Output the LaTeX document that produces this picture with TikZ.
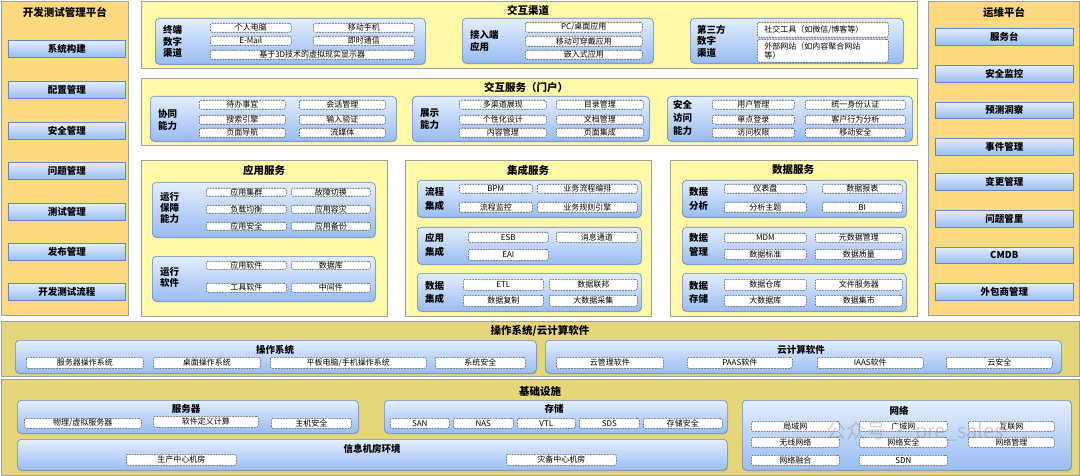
\documentclass[tikz,border=0pt]{standalone}
\usepackage{fontspec}
\setmainfont{Noto Sans CJK SC}
\usetikzlibrary{shadows}
\definecolor{orangeP}{RGB}{255,217,128}
\definecolor{yellowP}{RGB}{255,249,168}
\definecolor{khakiP}{RGB}{229,214,122}
\definecolor{pborder}{RGB}{160,160,160}
\definecolor{btop}{RGB}{228,238,254}
\definecolor{bbot}{RGB}{152,188,242}
\definecolor{bborder}{RGB}{95,135,205}
\definecolor{dborder}{RGB}{80,80,80}
\tikzset{
 panelO/.style={draw=pborder, fill=orangeP, line width=0.8pt},
 panelY/.style={draw=pborder, fill=yellowP, line width=0.8pt},
 panelK/.style={draw=pborder, fill=khakiP, line width=0.8pt},
 bluebox/.style={draw=bborder, top color=btop, bottom color=bbot, rounded corners=4pt, line width=0.6pt,
   drop shadow={shadow xshift=0.8pt, shadow yshift=-1pt, opacity=0.3}},
 btn/.style={draw=bborder, top color=btop, bottom color=bbot, line width=0.6pt,
   font=\bfseries\fontsize{9.5}{10}\selectfont, drop shadow={shadow xshift=0.8pt, shadow yshift=-1pt, opacity=0.3}},
 ditem/.style={draw=dborder, fill=white, dash pattern=on 1.8pt off 1pt, rounded corners=2pt, line width=0.55pt,
   font=\fontsize{8}{8.5}\selectfont},
 ptitle/.style={font=\bfseries\fontsize{10.5}{11}\selectfont, inner sep=0pt},
 btitle/.style={font=\bfseries\fontsize{9.5}{10}\selectfont, inner sep=0pt},
 blabel/.style={font=\bfseries\fontsize{9.5}{11.5}\selectfont, align=left, anchor=west, inner sep=0pt},
}
\newcommand\bx[6]{\node[#6, anchor=north west, inner sep=0pt, minimum width={(#4)-(#2)}, minimum height={(#5)-(#3)}] (#1) at (#2,#3) {};}
\newcommand\tb[7]{\node[#6, anchor=north west, inner sep=0pt, minimum width={(#4)-(#2)}, minimum height={(#5)-(#3)}] (#1) at (#2,#3) {#7};}
\begin{document}
\begin{tikzpicture}[x=1pt,y=-1pt]
\useasboundingbox (0,0) rectangle (1080,476);
\fill[white] (0,0) rectangle (1080,476);

% ---------- left panel
\bx{dev}{1}{1}{128}{315}{panelO}
\node[ptitle] (devt) at (65,12) {开发测试管理平台};
\tb{d1}{8}{40}{125}{57}{btn}{系统构建}
\tb{d2}{8}{81}{125}{98}{btn}{配置管理}
\tb{d3}{8}{122}{125}{139}{btn}{安全管理}
\tb{d4}{8}{162}{125}{179}{btn}{问题管理}
\tb{d5}{8}{203}{125}{220}{btn}{测试管理}
\tb{d6}{8}{243}{125}{260}{btn}{发布管理}
\tb{d7}{8}{283}{125}{300}{btn}{开发测试流程}

% ---------- right panel
\bx{ops}{928}{1}{1079}{315}{panelO}
\node[ptitle] (opst) at (1004,12) {运维平台};
\tb{o1}{935}{28}{1073}{45}{btn}{服务台}
\tb{o2}{935}{65}{1073}{82}{btn}{安全监控}
\tb{o3}{935}{102}{1073}{118}{btn}{预测洞察}
\tb{o4}{935}{138}{1073}{155}{btn}{事件管理}
\tb{o5}{935}{173}{1073}{190}{btn}{变更管理}
\tb{o6}{935}{210}{1073}{227}{btn}{问题管里}
\tb{o7}{935}{247}{1073}{263}{btn}{CMDB}
\tb{o8}{935}{283}{1073}{300}{btn}{外包商管理}

% ---------- 交互渠道
\bx{ch}{141}{1}{917}{68}{panelY}
\node[ptitle] (cht) at (528,11) {交互渠道};
\bx{zd}{155}{18}{425}{64}{bluebox}
\node[blabel] (zdl) at (163,41.5) {终端\\数字\\渠道};
\tb{zd1}{210}{23}{291}{32}{ditem}{个人电脑}
\tb{zd2}{313}{23}{414}{32}{ditem}{移动手机}
\tb{zd3}{210}{36}{291}{45}{ditem}{E-Mail}
\tb{zd4}{313}{36}{414}{45}{ditem}{即时通信}
\tb{zd5}{210}{50}{414}{59}{ditem}{基于3D技术的虚拟现实显示器}
\bx{jr}{462}{18}{653}{63}{bluebox}
\node[blabel,font=\bfseries\fontsize{9.5}{12}\selectfont] (jrl) at (470,41) {接入端\\应用};
\tb{jr1}{525}{22}{642}{32}{ditem}{PC/桌面应用}
\tb{jr2}{525}{36}{642}{46}{ditem}{移动可穿戴应用}
\tb{jr3}{525}{50}{642}{59}{ditem}{嵌入式应用}
\bx{ds}{690}{18}{903}{63}{bluebox}
\node[blabel] (dsl) at (697,41) {第三方\\数字\\渠道};
\node[ditem, anchor=north west, inner sep=0pt, minimum width=131, minimum height=15, text width=121, align=left] (ds1) at (757,22) {\hspace*{2pt}社交工具（如微信/博客等）};
\node[ditem, anchor=north west, inner sep=0pt, minimum width=131, minimum height=23, text width=121, align=left] (ds2) at (757,39) {\hspace*{2pt}外部网站（如内容聚合网站\\\hspace*{2pt}等）};

% ---------- 交互服务（门户）
\bx{portal}{141}{78}{917}{145}{panelY}
\node[ptitle] (portalt) at (526,87) {交互服务（门户）};
\bx{xt}{150}{96}{396}{141}{bluebox}
\node[blabel,font=\bfseries\fontsize{9.5}{12}\selectfont] (xtl) at (158,119.5) {协同\\能力};
\tb{xt1}{199}{100}{285}{109}{ditem}{待办事宜}
\tb{xt2}{299}{100}{385}{109}{ditem}{会话管理}
\tb{xt3}{199}{115}{285}{124}{ditem}{搜索引擎}
\tb{xt4}{299}{115}{385}{124}{ditem}{输入验证}
\tb{xt5}{199}{128}{285}{137}{ditem}{页面导航}
\tb{xt6}{299}{128}{385}{137}{ditem}{流媒体}
\bx{zs}{412}{96}{649}{141}{bluebox}
\node[blabel,font=\bfseries\fontsize{9.5}{12}\selectfont] (zsl) at (420,119.5) {展示\\能力};
\tb{zs1}{459}{100}{546}{109}{ditem}{多渠道展现}
\tb{zs2}{556}{100}{643}{109}{ditem}{目录管理}
\tb{zs3}{459}{115}{546}{124}{ditem}{个性化设计}
\tb{zs4}{556}{115}{643}{124}{ditem}{文档管理}
\tb{zs5}{459}{128}{546}{137}{ditem}{内容管理}
\tb{zs6}{556}{128}{643}{137}{ditem}{页面集成}
\bx{aq}{667}{96}{912}{141}{bluebox}
\node[blabel,font=\bfseries\fontsize{9.5}{13}\selectfont] (aql) at (673,118) {安全\\访问\\能力};
\tb{aq1}{712}{100}{794}{109}{ditem}{用户管理}
\tb{aq2}{805}{100}{905}{109}{ditem}{统一身份认证}
\tb{aq3}{712}{115}{794}{124}{ditem}{单点登录}
\tb{aq4}{805}{115}{905}{124}{ditem}{客户行为分析}
\tb{aq5}{712}{128}{794}{137}{ditem}{访问权限}
\tb{aq6}{805}{128}{905}{137}{ditem}{移动安全}

% ---------- 应用服务
\bx{app}{141}{160}{387}{316}{panelY}
\node[ptitle] (appt) at (264,170) {应用服务};
\bx{bz}{152}{182}{375}{237}{bluebox}
\node[blabel,font=\bfseries\fontsize{9.5}{10.8}\selectfont] (bzl) at (160,208) {运行\\保障\\能力};
\tb{bz1}{206}{188}{286}{196}{ditem}{应用集群}
\tb{bz2}{291}{188}{370}{196}{ditem}{故障切换}
\tb{bz3}{206}{205}{286}{213}{ditem}{负载均衡}
\tb{bz4}{291}{205}{370}{213}{ditem}{应用容灾}
\tb{bz5}{206}{222}{286}{230}{ditem}{应用安全}
\tb{bz6}{291}{222}{370}{230}{ditem}{应用备份}
\bx{rj}{152}{256}{375}{301}{bluebox}
\node[blabel] (rjl) at (160,277.5) {运行\\软件};
\tb{rj1}{206}{261}{286}{269}{ditem}{应用软件}
\tb{rj2}{291}{261}{370}{269}{ditem}{数据库}
\tb{rj3}{206}{283}{286}{292}{ditem}{工具软件}
\tb{rj4}{291}{283}{370}{292}{ditem}{中间件}

% ---------- 集成服务
\bx{int}{405}{160}{651}{316}{panelY}
\node[ptitle] (intt) at (528,170) {集成服务};
\bx{lc}{417}{180}{641}{217}{bluebox}
\node[blabel,font=\bfseries\fontsize{9.5}{13.5}\selectfont] (lcl) at (425,199) {流程\\集成};
\tb{lc1}{459}{184}{532}{193}{ditem}{BPM}
\tb{lc2}{537}{184}{637}{193}{ditem}{业务流程编排}
\tb{lc3}{459}{202}{532}{212}{ditem}{流程监控}
\tb{lc4}{537}{202}{637}{212}{ditem}{业务规则引擎}
\bx{yj}{417}{227}{641}{264}{bluebox}
\node[blabel,font=\bfseries\fontsize{9.5}{13.5}\selectfont] (yjl) at (425,245) {应用\\集成};
\tb{yj1}{468}{232}{548}{242}{ditem}{ESB}
\tb{yj2}{556}{232}{637}{242}{ditem}{消息通道}
\tb{yj3}{468}{249}{548}{260}{ditem}{EAI}
\bx{sj}{417}{273}{641}{311}{bluebox}
\node[blabel,font=\bfseries\fontsize{9.5}{13.5}\selectfont] (sjl) at (425,292.5) {数据\\集成};
\tb{sj1}{463}{279}{543}{290}{ditem}{ETL}
\tb{sj2}{549}{279}{637}{290}{ditem}{数据联邦}
\tb{sj3}{463}{295}{543}{306}{ditem}{数据复制}
\tb{sj4}{549}{295}{637}{306}{ditem}{大数据采集}

% ---------- 数据服务
\bx{dat}{670}{160}{917}{316}{panelY}
\node[ptitle] (datt) at (793,170) {数据服务};
\bx{fx}{682}{180}{906}{217}{bluebox}
\node[blabel,font=\bfseries\fontsize{9.5}{13.5}\selectfont] (fxl) at (689,199) {数据\\分析};
\tb{fx1}{724}{184}{806}{193}{ditem}{仪表盘}
\tb{fx2}{822}{184}{902}{193}{ditem}{数据报表}
\tb{fx3}{724}{202}{806}{212}{ditem}{分析主题}
\tb{fx4}{822}{202}{902}{212}{ditem}{BI}
\bx{gl}{682}{227}{906}{264}{bluebox}
\node[blabel,font=\bfseries\fontsize{9.5}{13.5}\selectfont] (gll) at (689,245) {数据\\管理};
\tb{gl1}{724}{233}{806}{242}{ditem}{MDM}
\tb{gl2}{815}{233}{902}{242}{ditem}{元数据管理}
\tb{gl3}{724}{249}{806}{259}{ditem}{数据标准}
\tb{gl4}{815}{249}{902}{259}{ditem}{数据质量}
\bx{cc}{682}{273}{906}{311}{bluebox}
\node[blabel,font=\bfseries\fontsize{9.5}{13.5}\selectfont] (ccl) at (689,292.5) {数据\\存储};
\tb{cc1}{724}{279}{806}{290}{ditem}{数据仓库}
\tb{cc2}{815}{279}{902}{290}{ditem}{文件服务器}
\tb{cc3}{724}{295}{806}{306}{ditem}{大数据库}
\tb{cc4}{815}{295}{902}{306}{ditem}{数据集市}

% ---------- 操作系统/云计算软件
\bx{os}{1}{321}{1079}{376}{panelK}
\node[ptitle] (ost) at (540,331) {操作系统/云计算软件};
\bx{osb}{15}{340}{536}{373}{bluebox}
\node[btitle] (osbt) at (275,350) {操作系统};
\tb{os1}{26}{357}{143}{368}{ditem}{服务器操作系统}
\tb{os2}{153}{357}{260}{368}{ditem}{桌面操作系统}
\tb{os3}{270}{357}{426}{368}{ditem}{平板电脑/手机操作系统}
\tb{os4}{435}{357}{525}{368}{ditem}{系统安全}
\bx{cl}{545}{340}{1061}{373}{bluebox}
\node[btitle] (clt) at (801,350) {云计算软件};
\tb{cl1}{556}{357}{663}{368}{ditem}{云管理软件}
\tb{cl2}{687}{357}{792}{368}{ditem}{PAAS软件}
\tb{cl3}{817}{357}{923}{368}{ditem}{IAAS软件}
\tb{cl4}{946}{357}{1052}{368}{ditem}{云安全}

% ---------- 基础设施
\bx{inf}{1}{379}{1079}{475}{panelK}
\node[ptitle] (inft) at (540,391) {基础设施};
\bx{sv}{17}{400}{358}{433}{bluebox}
\node[btitle] (svt) at (186,409) {服务器};
\tb{sv1}{24}{418}{141}{428}{ditem}{物理/虚拟服务器}
\tb{sv2}{153}{416}{258}{427}{ditem}{软件定义计算}
\tb{sv3}{271}{418}{351}{428}{ditem}{主机安全}
\bx{st}{384}{400}{727}{433}{bluebox}
\node[btitle] (stt) at (554,409) {存储};
\tb{st1}{390}{418}{449}{428}{ditem}{SAN}
\tb{st2}{453}{418}{513}{428}{ditem}{NAS}
\tb{st3}{517}{418}{575}{428}{ditem}{VTL}
\tb{st4}{579}{418}{639}{428}{ditem}{SDS}
\tb{st5}{643}{418}{722}{428}{ditem}{存储安全}
\bx{jf}{17}{439}{727}{470}{bluebox}
\node[btitle] (jft) at (372,449) {信息机房环境};
\tb{jf1}{126}{454}{236}{465}{ditem}{生产中心机房}
\tb{jf2}{506}{454}{616}{465}{ditem}{灾备中心机房}
\bx{nw}{742}{400}{1071}{470}{bluebox}
\node[btitle] (nwt) at (899,411) {网络};
\tb{nw1}{751}{421}{839}{431}{ditem}{局域网}
\tb{nw2}{859}{421}{947}{431}{ditem}{广域网}
\tb{nw3}{968}{421}{1054}{431}{ditem}{互联网}
\tb{nw4}{751}{437}{839}{447}{ditem}{无线网络}
\tb{nw5}{859}{437}{947}{447}{ditem}{网络安全}
\tb{nw6}{968}{437}{1054}{447}{ditem}{网络管理}
\tb{nw7}{751}{455}{839}{465}{ditem}{网络融合}
\tb{nw8}{859}{455}{947}{465}{ditem}{SDN}

% ---------- watermark
\node[text=gray, opacity=0.35, font=\fontsize{20}{22}\selectfont, inner sep=0pt] (wm) at (915,432) {公众号 · pre\_sales};
\end{tikzpicture}
\end{document}
